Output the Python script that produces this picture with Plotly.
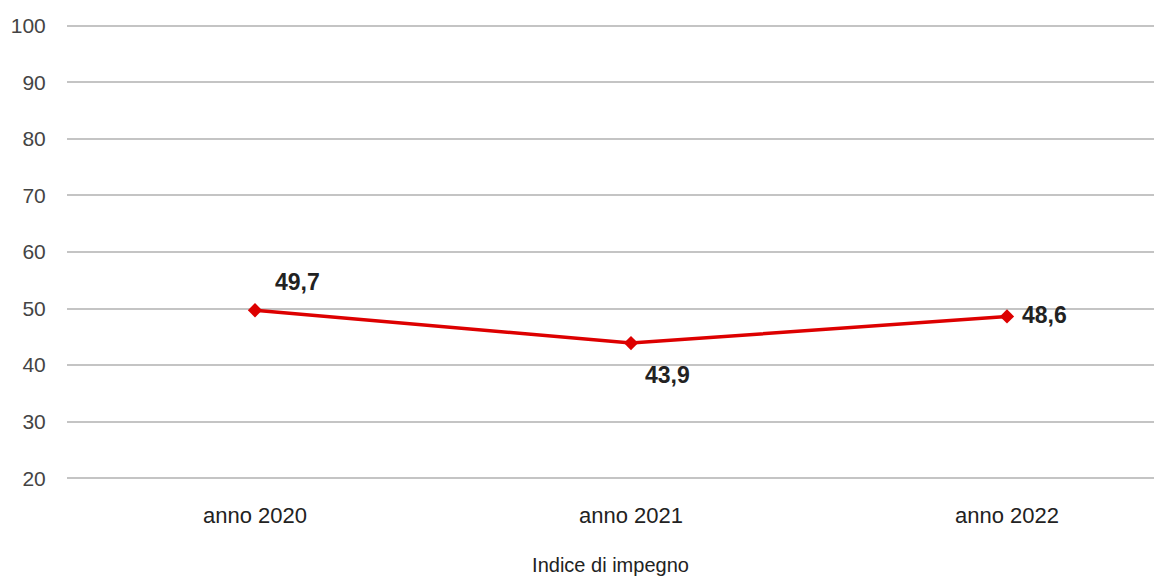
import plotly.graph_objects as go

# data
categories = ["anno 2020", "anno 2021", "anno 2022"]
values = [49.7, 43.9, 48.6]
value_labels = ["49,7", "43,9", "48,6"]
y_ticks = [20, 30, 40, 50, 60, 70, 80, 90, 100]

# label offsets (px) relative to each point
label_shift = [(42, 28), (37, -32), (38, 1)]

FONT = "Liberation Sans, Arial, sans-serif"

fig = go.Figure()
fig.add_trace(go.Scatter(
    x=categories,
    y=values,
    mode="lines+markers",
    line=dict(color="#dd0000", width=3.5),
    marker=dict(symbol="diamond", size=11, color="#dd0000"),
    showlegend=False,
))

for cat, val, lab, (dx, dy) in zip(categories, values, value_labels, label_shift):
    fig.add_annotation(
        x=cat, y=val, text="<b>" + lab + "</b>",
        showarrow=False, xanchor="center", yanchor="middle",
        xshift=dx, yshift=dy,
        font=dict(family=FONT, size=23, color="#222222"),
    )

# plot area runs off the right edge, like the original
fig.update_layout(
    width=1154, height=577,
    margin=dict(l=67, r=0, t=23, b=96, autoexpand=False),
    plot_bgcolor="white", paper_bgcolor="white",
    font=dict(family=FONT, size=21, color="#333333"),
)
fig.update_xaxes(
    range=[-0.5, 2.391],
    showgrid=False, zeroline=False, showline=False, automargin=False,
    ticks="outside", ticklen=15, tickcolor="rgba(0,0,0,0)",
    tickfont=dict(family=FONT, size=22, color="#222222"),
    title=dict(text="Indice di impegno", standoff=30,
               font=dict(family=FONT, size=20, color="#222222")),
)
fig.update_yaxes(
    range=[19.5, 100.5], tickvals=y_ticks,
    showgrid=True, gridcolor="#c4c4c4", gridwidth=1.5,
    zeroline=False, showline=False, automargin=False,
    ticks="outside", ticklen=16, tickcolor="rgba(0,0,0,0)",
    tickfont=dict(family=FONT, size=21, color="#444444"),
)

# drop the default page margin so the figure fills the window
fig.write_html(
    "out.html",
    config={"displayModeBar": False},
    post_script="document.body.style.margin='0px';",
)
